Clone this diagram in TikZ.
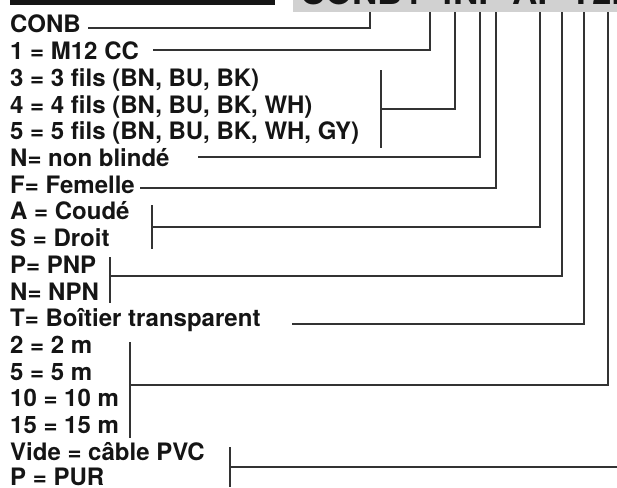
\documentclass[tikz,border=0pt]{standalone}
\usepackage{fontspec}
\setmainfont{TeX Gyre Heros}
\definecolor{codegray}{HTML}{D1D1D1}
\definecolor{ink}{HTML}{151515}
\definecolor{wire}{HTML}{333333}
\begin{document}
\begin{tikzpicture}[x=1pt,y=-1pt,
  lbl/.style={anchor=base west, inner sep=0pt, text=ink,
    font=\bfseries\fontsize{24}{26.7}\selectfont},
  conn/.style={draw=wire, line width=1.1pt},
  bar/.style={draw=wire, line width=1.1pt}
]
\useasboundingbox (0,0) rectangle (617,487);
% header
\fill[ink] (10,0) rectangle (275,5.5);
\fill[codegray] (293,0) rectangle (617,12);
\begin{scope}
  \clip (293,0) rectangle (617,12);
  \node[anchor=base west, inner sep=0pt, text=ink,
    font=\bfseries\fontsize{35}{35}\selectfont] (code) at (300,4.5) {CONB1-4NF-AP-T2P};
\end{scope}
% labels
\node[lbl] (t0)  at (10,33)    {CONB};
\node[lbl] (t1)  at (10,59.7)  {1 = M12 CC};
\node[lbl] (t2)  at (10,86.4)  {3 = 3 fils (BN, BU, BK)};
\node[lbl] (t3)  at (10,113.1) {4 = 4 fils (BN, BU, BK, WH)};
\node[lbl] (t4)  at (10,139.8) {5 = 5 fils (BN, BU, BK, WH, GY)};
\node[lbl] (t5)  at (10,166.5) {N= non blindé};
\node[lbl] (t6)  at (10,193.2) {F= Femelle};
\node[lbl] (t7)  at (10,219.9) {A = Coudé};
\node[lbl] (t8)  at (10,246.6) {S = Droit};
\node[lbl] (t9)  at (10,273.3) {P= PNP};
\node[lbl] (t10) at (10,300)   {N= NPN};
\node[lbl] (t11) at (10,326.7) {T= Boîtier transparent};
\node[lbl] (t12) at (10,353.4) {2 = 2 m};
\node[lbl] (t13) at (10,380.1) {5 = 5 m};
\node[lbl] (t14) at (10,406.8) {10 = 10 m};
\node[lbl] (t15) at (10,433.5) {15 = 15 m};
\node[lbl] (t16) at (10,460.2) {Vide = câble PVC};
\node[lbl] (t17) at (10,485.8) {P = PUR};
% connector end points at the code box
\coordinate (g0) at (370,12);
\coordinate (g1) at (430,12);
\coordinate (g2) at (455,12);
\coordinate (g3) at (480,12);
\coordinate (g4) at (496,12);
\coordinate (g5) at (540,12);
\coordinate (g6) at (562,12);
\coordinate (g7) at (584,12);
\coordinate (g8) at (608,12);
\coordinate (g9) at (617,467);
% start points / brackets
\coordinate (s0) at (88,28);
\coordinate (s1) at (153,50);
\coordinate (b2a) at (381,70);  \coordinate (b2b) at (381,148); \coordinate (s2) at (381,109);
\coordinate (s3) at (198,157);
\coordinate (s4) at (140,188);
\coordinate (b5a) at (152,205); \coordinate (b5b) at (152,249); \coordinate (s5) at (152,227);
\coordinate (b6a) at (110,257); \coordinate (b6b) at (110,303); \coordinate (s6) at (110,276);
\coordinate (s7) at (292,324);
\coordinate (b8a) at (130,342); \coordinate (b8b) at (130,438); \coordinate (s8) at (130,385);
\coordinate (b9a) at (230,447); \coordinate (b9b) at (230,487); \coordinate (s9) at (230,467);
% brackets
\draw[bar] (b2a) -- (b2b);
\draw[bar] (b5a) -- (b5b);
\draw[bar] (b6a) -- (b6b);
\draw[bar] (b8a) -- (b8b);
\draw[bar] (b9a) -- (b9b);
% connectors
\draw[conn] (s0) -| (g0);
\draw[conn] (s1) -| (g1);
\draw[conn] (s2) -| (g2);
\draw[conn] (s3) -| (g3);
\draw[conn] (s4) -| (g4);
\draw[conn] (s5) -| (g5);
\draw[conn] (s6) -| (g6);
\draw[conn] (s7) -| (g7);
\draw[conn] (s8) -| (g8);
\draw[conn] (s9) -- (g9);
\end{tikzpicture}
\end{document}
